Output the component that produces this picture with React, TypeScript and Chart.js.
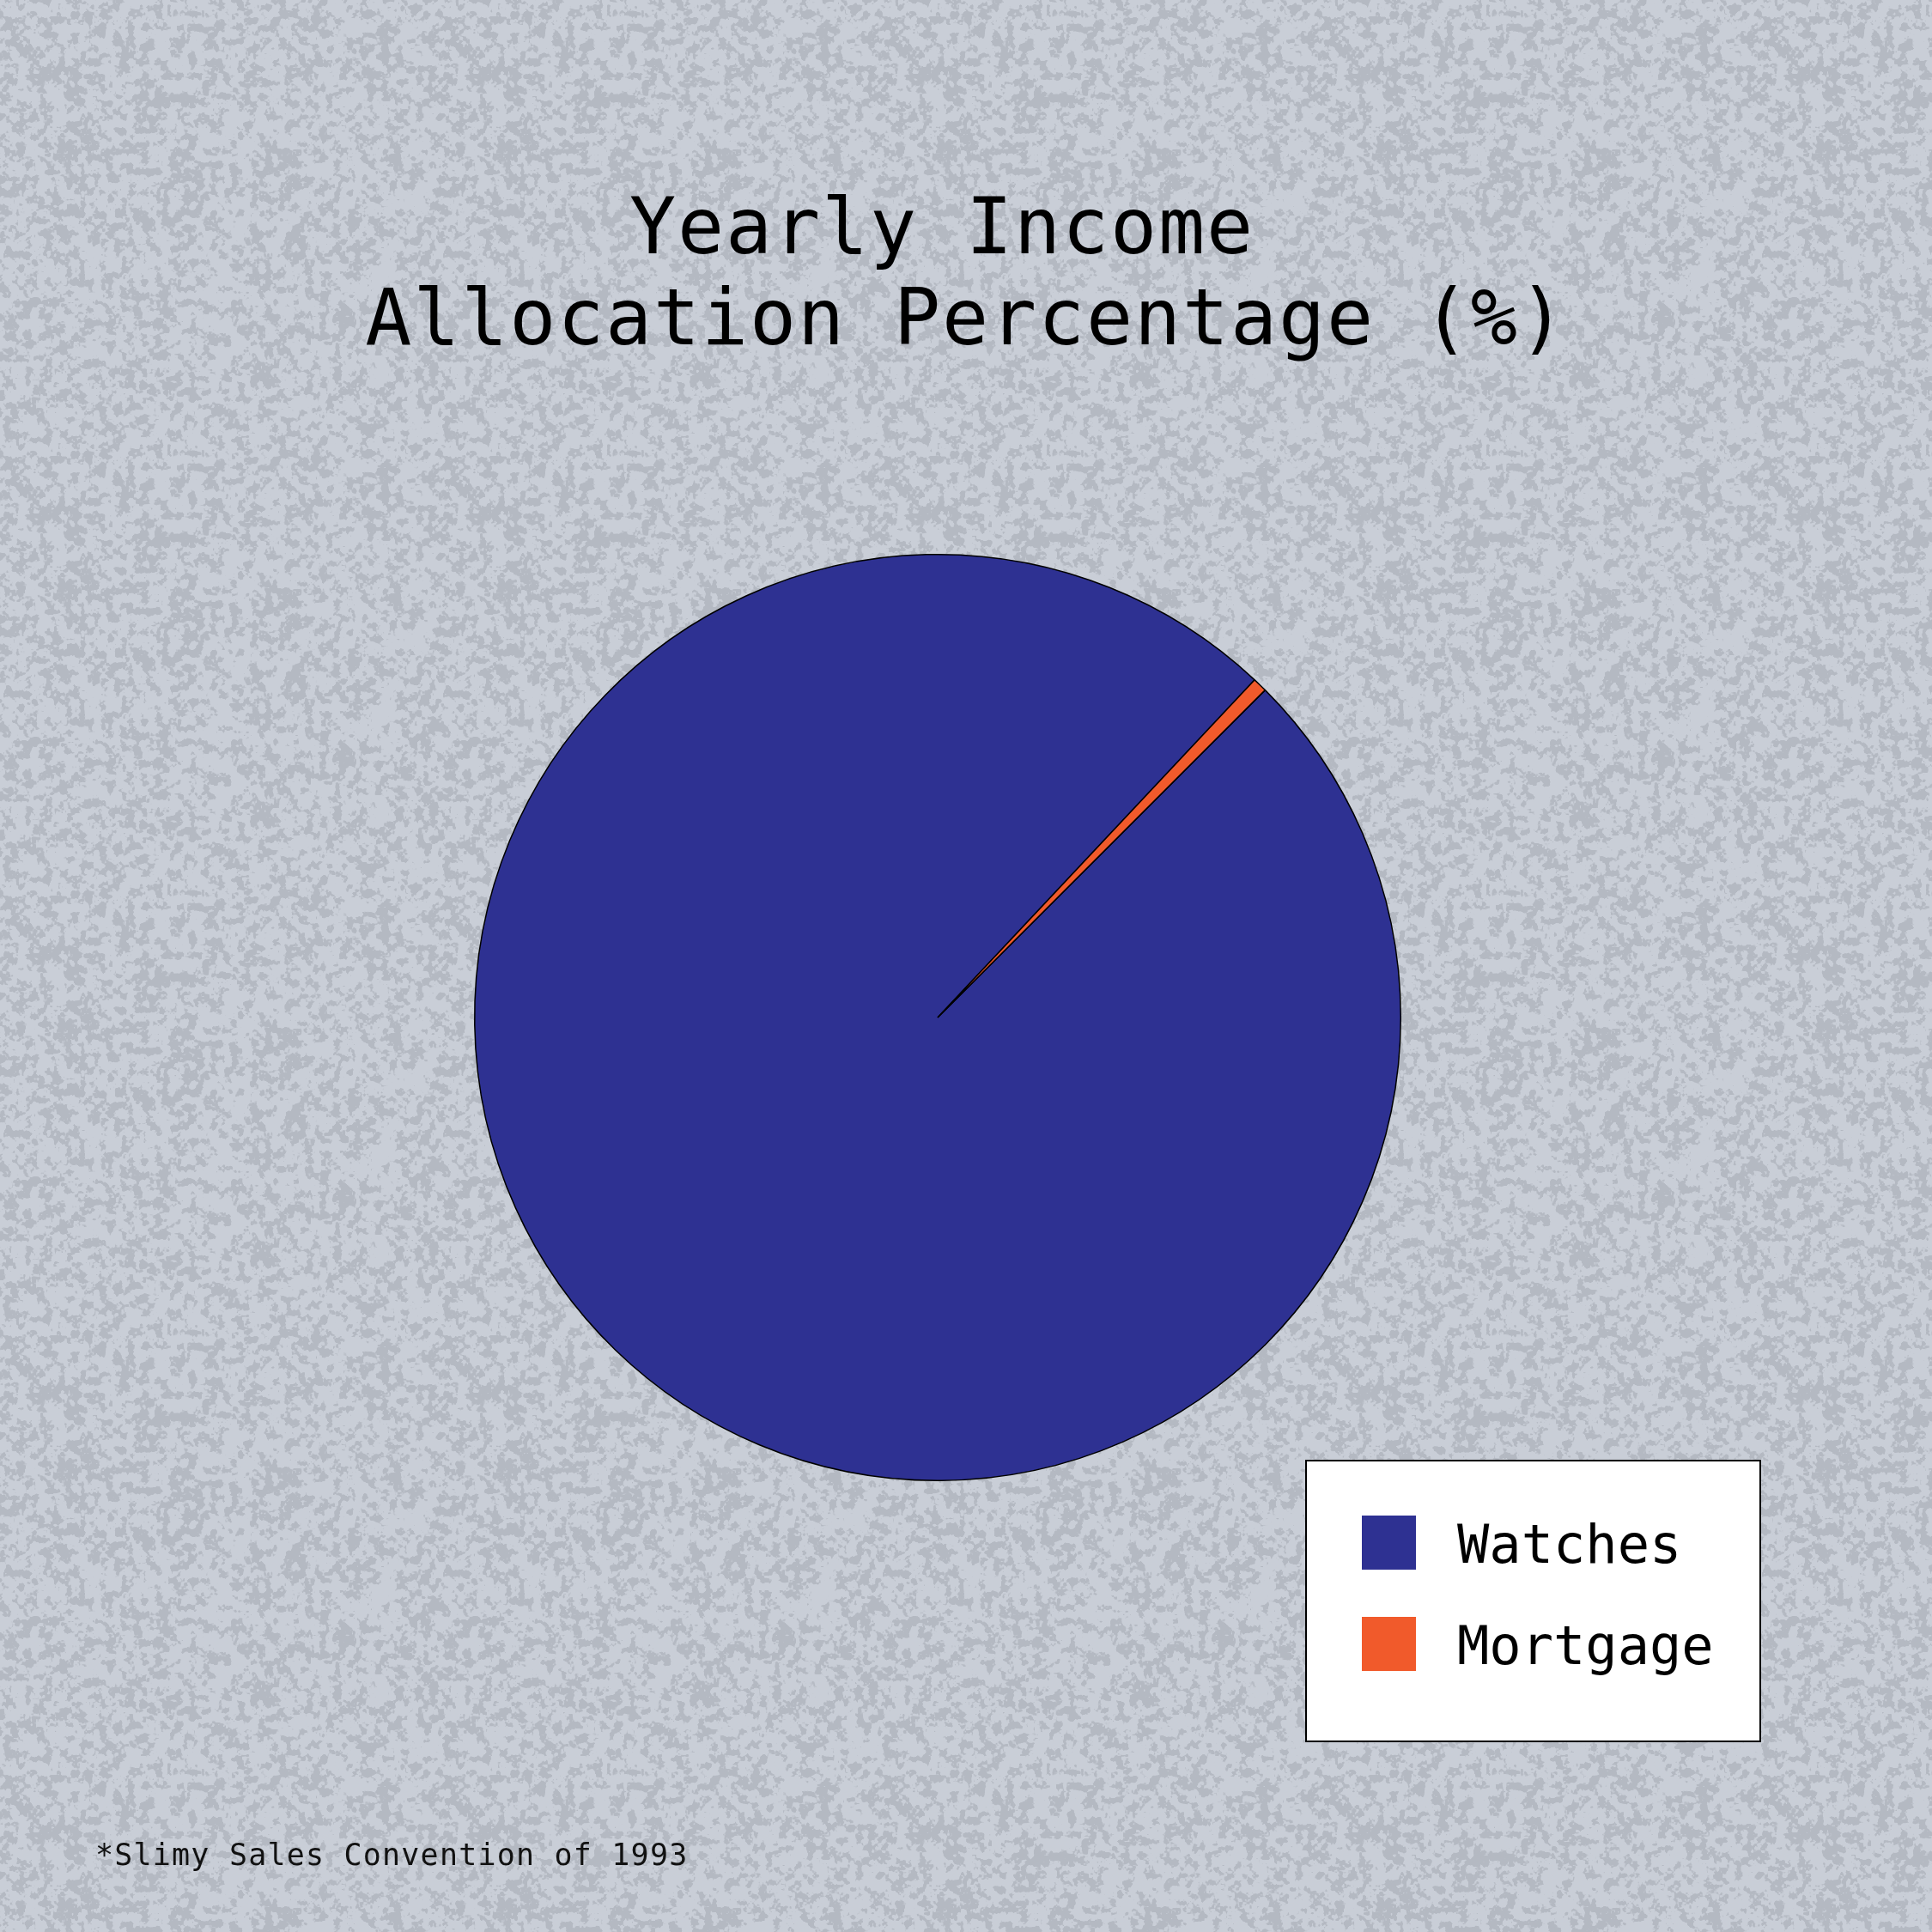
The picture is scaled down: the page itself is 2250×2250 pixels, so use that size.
import React, { useEffect, useRef } from "react";
import { Chart, registerables, layouts } from "chart.js";

Chart.register(...registerables);

// ---- data ----
const categories: string[] = ["Watches", "Mortgage"];
const allocation: number[] = [99.5, 0.5];
const sliceColors: string[] = ["#2E3192", "#F15A2B"];
const titleLines: string[] = ["Yearly Income ", "Allocation Percentage (%)"];
const footnote: string = "*Slimy Sales Convention of 1993";

const FONT = '"DejaVu Sans Mono", "Liberation Mono", monospace';

// deterministic hash noise for the paper texture background
function hash(x: number, y: number): number {
  let h = (Math.imul(x, 374761393) + Math.imul(y, 668265263)) | 0;
  h = Math.imul(h ^ (h >>> 13), 1274126177);
  h = h ^ (h >>> 16);
  return (h >>> 0) / 4294967295;
}
function noise(x: number, y: number, cell: number, tile: number): number {
  const n = tile / cell;
  const gx = Math.floor(x / cell);
  const gy = Math.floor(y / cell);
  const fx = x / cell - gx;
  const fy = y / cell - gy;
  const sx = fx * fx * (3 - 2 * fx);
  const sy = fy * fy * (3 - 2 * fy);
  const x0 = ((gx % n) + n) % n, x1 = (x0 + 1) % n;
  const y0 = ((gy % n) + n) % n, y1 = (y0 + 1) % n;
  const a = hash(x0 + cell * 1000, y0);
  const b = hash(x1 + cell * 1000, y0);
  const c = hash(x0 + cell * 1000, y1);
  const d = hash(x1 + cell * 1000, y1);
  const top = a + (b - a) * sx;
  const bot = c + (d - c) * sx;
  return top + (bot - top) * sy;
}
let texture: CanvasPattern | null = null;
function getTexture(ctx: CanvasRenderingContext2D): CanvasPattern | null {
  if (texture) return texture;
  const T = 512;
  const off = document.createElement("canvas");
  off.width = T;
  off.height = T;
  const octx = off.getContext("2d")!;
  const img = octx.createImageData(T, T);
  const light = [201, 206, 215];
  const dark = [180, 185, 194];
  for (let y = 0; y < T; y++) {
    for (let x = 0; x < T; x++) {
      const v =
        0.5 * noise(x, y, 8, T) + 0.3 * noise(x, y, 4, T) + 0.2 * noise(x, y, 2, T);
      let t = (v - 0.46) * 14 + 0.5;
      t = Math.max(0, Math.min(1, t));
      const i = (y * T + x) * 4;
      img.data[i] = dark[0] + (light[0] - dark[0]) * t;
      img.data[i + 1] = dark[1] + (light[1] - dark[1]) * t;
      img.data[i + 2] = dark[2] + (light[2] - dark[2]) * t;
      img.data[i + 3] = 255;
    }
  }
  octx.putImageData(img, 0, 0);
  texture = ctx.createPattern(off, "repeat");
  return texture;
}

const backgroundPlugin = {
  id: "paperBackground",
  beforeDraw(chart: any) {
    const ctx = chart.ctx as any;
    ctx.save();
    ctx.fillStyle = getTexture(ctx) || "#bfc4cd";
    ctx.fillRect(0, 0, chart.width, chart.height);
    ctx.restore();
    // the title is drawn next with slightly widened letters
    ctx.letterSpacing = "1.8px";
  },
};

// keeps the pie offset to the left while the title stays centred on the canvas
const rightSpacerPlugin = {
  id: "rightSpacer",
  beforeInit(chart: any) {
    const box: any = {
      id: "rightSpacer",
      position: "right",
      weight: 100,
      fullSize: false,
      options: { display: true },
      top: 0,
      left: 0,
      right: 0,
      bottom: 0,
      width: 0,
      height: 0,
      isHorizontal() {
        return false;
      },
      update(_maxWidth: number, maxHeight: number) {
        this.width = 66;
        this.height = maxHeight;
      },
      draw() {},
    };
    layouts.addBox(chart, box);
  },
};

const boxLegendPlugin = {
  id: "boxLegend",
  afterDraw(chart: any) {
    const ctx = chart.ctx as any;
    const labels = chart.data.labels as string[];
    const colors = chart.data.datasets[0].backgroundColor as string[];
    ctx.save();
    ctx.letterSpacing = "0px";
    ctx.fillStyle = "#ffffff";
    ctx.fillRect(1521, 1701, 529, 327);
    ctx.lineWidth = 2;
    ctx.strokeStyle = "#000000";
    ctx.strokeRect(1521, 1701, 529, 327);
    ctx.font = `62px ${FONT}`;
    ctx.textBaseline = "alphabetic";
    ctx.textAlign = "left";
    labels.forEach((lab, i) => {
      const top = 1765 + i * 118;
      ctx.fillStyle = colors[i];
      ctx.fillRect(1586, top, 63, 63);
      ctx.fillStyle = "#000000";
      ctx.fillText(lab, 1697, top + 55);
    });
    // footnote
    ctx.letterSpacing = "1.2px";
    ctx.font = `35px ${FONT}`;
    ctx.fillStyle = "#111111";
    ctx.fillText(footnote, 111, 2172);
    ctx.restore();
  },
};

export default function App() {
  const ref = useRef<HTMLCanvasElement>(null);
  useEffect(() => {
    document.body.style.margin = "0";
    document.body.style.overflow = "hidden";
    const canvas = ref.current!;
    const chart = new Chart(canvas, {
      type: "pie",
      data: {
        labels: categories,
        datasets: [
          {
            data: allocation,
            backgroundColor: sliceColors,
            borderColor: "#000000",
            borderWidth: 1.5,
          },
        ],
      },
      options: {
        responsive: false,
        devicePixelRatio: 1,
        animation: false,
        events: [],
        rotation: 45,
        layout: { padding: { top: 0, left: 0, right: 0, bottom: 525 } },
        plugins: {
          legend: { display: false },
          tooltip: { enabled: false },
          title: {
            display: true,
            text: titleLines,
            color: "#000000",
            font: { family: FONT, size: 90, weight: "normal", lineHeight: 1.183 },
            padding: { top: 218, bottom: 214 },
          },
        },
      },
      plugins: [backgroundPlugin, rightSpacerPlugin, boxLegendPlugin],
    });
    return () => chart.destroy();
  }, []);
  return (
    <div style={{ width: 2250, height: 2250 }}>
      <canvas ref={ref} width={2250} height={2250} style={{ display: "block" }} />
    </div>
  );
}
